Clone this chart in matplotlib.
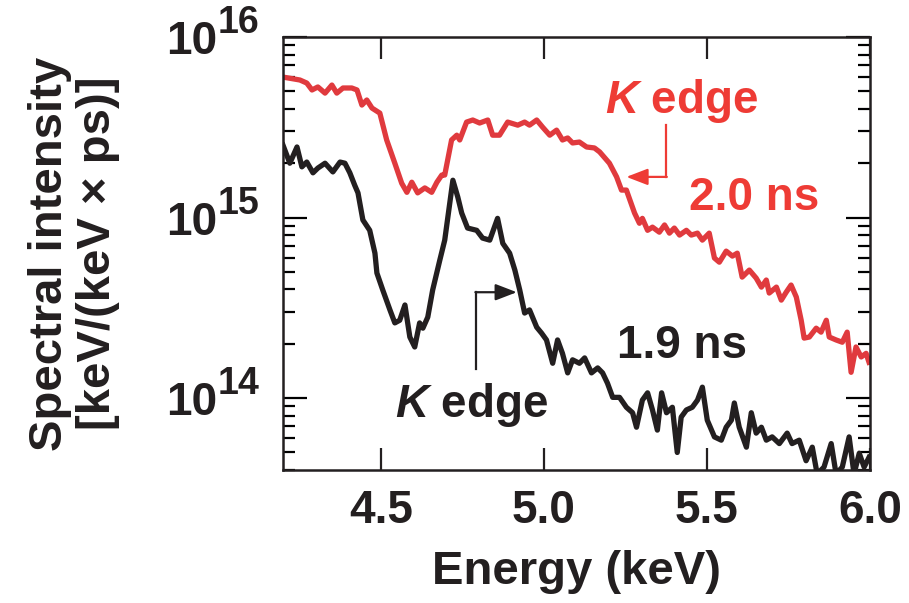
import matplotlib
matplotlib.use("Agg")
import matplotlib.pyplot as plt
import numpy as np

plt.rcParams["font.family"] = ["Liberation Sans", "DejaVu Sans"]
plt.rcParams["font.weight"] = "bold"
plt.rcParams["axes.labelweight"] = "bold"
plt.rcParams["mathtext.fontset"] = "custom"
plt.rcParams["mathtext.it"] = "Liberation Sans:bold:italic"
plt.rcParams["mathtext.rm"] = "Liberation Sans:bold"

RED_LINE = "#e03a3e"
RED_TEXT = "#ee3b35"
BLACK = "#231f20"

# spectrum at 2.0 ns (keV, keV/(keV x ps))
energy_20 = [4.200, 4.252, 4.273, 4.289, 4.307, 4.329, 4.350, 4.365, 4.384, 4.411,
             4.427, 4.442, 4.457, 4.473, 4.497, 4.518, 4.543, 4.564, 4.580, 4.595,
             4.613, 4.635, 4.656, 4.672, 4.687, 4.696, 4.717, 4.733, 4.742, 4.763,
             4.782, 4.803, 4.828, 4.843, 4.864, 4.889, 4.920, 4.941, 4.956, 4.978,
             4.996, 5.018, 5.039, 5.057, 5.073, 5.088, 5.109, 5.131, 5.155, 5.171,
             5.201, 5.223, 5.238, 5.253, 5.278, 5.293, 5.302, 5.318, 5.333, 5.354,
             5.370, 5.385, 5.400, 5.416, 5.437, 5.452, 5.471, 5.486, 5.507, 5.523,
             5.538, 5.559, 5.578, 5.593, 5.608, 5.630, 5.651, 5.667, 5.682, 5.691,
             5.713, 5.728, 5.743, 5.758, 5.774, 5.789, 5.798, 5.814, 5.835, 5.850,
             5.866, 5.875, 5.896, 5.915, 5.930, 5.942, 5.957, 5.973, 5.988, 5.997]
intensity_20 = [6.00e15, 5.78e15, 5.56e15, 5.09e15, 5.29e15, 4.89e15, 5.42e15, 4.89e15, 5.22e15, 5.22e15,
                5.09e15, 4.20e15, 4.48e15, 4.04e15, 3.79e15, 2.69e15, 2.00e15, 1.55e15, 1.38e15, 1.57e15,
                1.37e15, 1.46e15, 1.38e15, 1.57e15, 1.72e15, 1.72e15, 2.69e15, 2.86e15, 2.69e15, 3.38e15,
                3.47e15, 3.34e15, 3.47e15, 2.86e15, 2.86e15, 3.38e15, 3.25e15, 3.38e15, 3.25e15, 3.47e15,
                3.17e15, 2.86e15, 3.05e15, 2.69e15, 2.76e15, 2.59e15, 2.62e15, 2.46e15, 2.43e15, 2.31e15,
                2.00e15, 1.68e15, 1.42e15, 1.42e15, 1.06e15, 9.30e14, 9.90e14, 8.50e14, 8.85e14, 8.30e14,
                9.10e14, 8.20e14, 8.75e14, 8.00e14, 8.50e14, 8.00e14, 8.20e14, 7.50e14, 8.20e14, 5.97e14,
                5.66e14, 6.52e14, 6.12e14, 6.35e14, 4.68e14, 5.12e14, 4.62e14, 4.12e14, 4.51e14, 3.82e14,
                4.12e14, 3.49e14, 3.86e14, 4.23e14, 3.63e14, 2.70e14, 2.15e14, 2.18e14, 2.44e14, 2.32e14,
                2.70e14, 2.18e14, 2.10e14, 2.04e14, 2.32e14, 1.39e14, 1.92e14, 1.69e14, 1.77e14, 1.58e14]

# spectrum at 1.9 ns
energy_19 = [4.200, 4.221, 4.243, 4.258, 4.273, 4.292, 4.307, 4.329, 4.353, 4.375,
             4.390, 4.405, 4.420, 4.430, 4.445, 4.466, 4.482, 4.488, 4.506, 4.528,
             4.543, 4.558, 4.574, 4.589, 4.604, 4.619, 4.629, 4.644, 4.659, 4.681,
             4.696, 4.721, 4.736, 4.748, 4.766, 4.794, 4.812, 4.834, 4.858, 4.874,
             4.895, 4.911, 4.926, 4.941, 4.956, 4.978, 4.993, 5.008, 5.027, 5.042,
             5.057, 5.073, 5.088, 5.109, 5.125, 5.146, 5.165, 5.180, 5.195, 5.211,
             5.232, 5.253, 5.272, 5.284, 5.302, 5.318, 5.333, 5.348, 5.361, 5.376,
             5.394, 5.409, 5.421, 5.437, 5.455, 5.471, 5.486, 5.501, 5.523, 5.544,
             5.559, 5.575, 5.584, 5.599, 5.621, 5.636, 5.651, 5.667, 5.682, 5.700,
             5.722, 5.746, 5.761, 5.783, 5.804, 5.823, 5.838, 5.859, 5.881, 5.896,
             5.915, 5.936, 5.951, 5.967, 5.982, 5.997]
intensity_19 = [2.52e15, 2.00e15, 2.46e15, 1.91e15, 2.03e15, 1.77e15, 1.88e15, 2.00e15, 1.79e15, 2.03e15,
                2.00e15, 1.77e15, 1.51e15, 1.37e15, 9.70e14, 8.50e14, 6.35e14, 4.93e14, 3.97e14, 3.08e14,
                2.61e14, 2.70e14, 3.28e14, 2.18e14, 1.92e14, 2.61e14, 2.44e14, 2.81e14, 3.97e14, 5.82e14,
                7.50e14, 1.61e15, 1.30e15, 1.06e15, 8.75e14, 8.50e14, 7.70e14, 7.50e14, 9.90e14, 7.20e14,
                6.35e14, 5.12e14, 3.97e14, 2.96e14, 3.08e14, 2.47e14, 2.29e14, 2.10e14, 1.56e14, 2.10e14,
                1.77e14, 1.38e14, 1.63e14, 1.56e14, 1.67e14, 1.38e14, 1.47e14, 1.38e14, 1.21e14, 1.01e14,
                1.01e14, 8.90e13, 8.30e13, 6.90e13, 9.75e13, 1.07e14, 8.60e13, 6.65e13, 1.07e14, 8.30e13,
                8.90e13, 5.00e13, 7.85e13, 8.60e13, 8.90e13, 9.75e13, 1.15e14, 7.55e13, 6.10e13, 5.85e13,
                6.90e13, 7.55e13, 9.40e13, 6.90e13, 5.35e13, 8.30e13, 6.40e13, 6.90e13, 5.85e13, 6.10e13,
                5.60e13, 6.40e13, 5.60e13, 5.85e13, 4.50e13, 5.35e13, 3.80e13, 4.15e13, 5.60e13, 3.80e13,
                4.15e13, 6.10e13, 3.80e13, 4.95e13, 4.15e13, 4.70e13]

decades = [14, 15, 16]
x_ticks = [4.5, 5.0, 5.5, 6.0]
x_tick_labels = ["4.5", "5.0", "5.5", "6.0"]

fig = plt.figure(figsize=(9.09, 6.03), dpi=100)
ax = fig.add_axes([0.3113, 0.2206, 0.6458, 0.7180])

ax.plot(energy_20, intensity_20, color=RED_LINE, lw=3.8, solid_joinstyle="round")
ax.plot(energy_19, intensity_19, color=BLACK, lw=3.8, solid_joinstyle="round")

ax.set_yscale("log")
ax.set_xlim(4.2, 6.0)
ax.set_ylim(4e13, 1e16)

for sp in ax.spines.values():
    sp.set_linewidth(1.8)
    sp.set_color(BLACK)

ax.set_xticks(x_ticks)
ax.set_xticklabels(x_tick_labels)
ax.tick_params(axis="x", which="major", direction="in", length=16, width=1.6,
               top=True, labelsize=33, pad=14, colors=BLACK)
ax.tick_params(axis="x", which="minor", bottom=False, top=False)
ax.tick_params(axis="y", which="major", direction="in", length=17, width=1.6,
               left=True, right=True, labelleft=False)
ax.tick_params(axis="y", which="minor", direction="in", length=8.5, width=1.6,
               left=True, right=True, labelleft=False)
ax.yaxis.set_minor_formatter(plt.NullFormatter())

# decade labels with a large exponent, drawn as two pieces
for d in decades:
    ax.annotate("10", xy=(0, 10.0 ** d), xycoords=ax.get_yaxis_transform(),
                xytext=(-47.5, -12.2), textcoords="offset points",
                ha="right", va="baseline", fontsize=33, color=BLACK)
    ax.annotate(str(d), xy=(0, 10.0 ** d), xycoords=ax.get_yaxis_transform(),
                xytext=(-46.8, 2.9), textcoords="offset points",
                ha="left", va="baseline", fontsize=27, color=BLACK)

ax.set_xlabel("Energy (keV)", fontsize=34, color=BLACK, labelpad=12)
ax.set_ylabel("Spectral intensity\n[keV/(keV \u00d7 ps)]", fontsize=34,
              color=BLACK, linespacing=1.12)
ax.yaxis.set_label_coords(-0.278, 0.5)

arrow_style = "-|>,head_length=1.3,head_width=0.5"

# K-edge markers
ax.text(5.186, 3.8e15, r"$K$ edge", color=RED_TEXT, fontsize=33, va="baseline")
ax.text(5.446, 1.10e15, "2.0 ns", color=RED_TEXT, fontsize=33, va="baseline")
ax.plot([5.376, 5.376], [3.25e15, 1.68e15], color=RED_TEXT, lw=1.6)
ax.annotate("", xy=(5.253, 1.68e15), xytext=(5.377, 1.68e15),
            arrowprops=dict(arrowstyle=arrow_style, color=RED_TEXT, lw=1.6,
                            shrinkA=0, shrinkB=0))

ax.text(5.223, 1.67e14, "1.9 ns", color=BLACK, fontsize=33, va="baseline")
ax.text(4.543, 7.85e13, r"$K$ edge", color=BLACK, fontsize=33, va="baseline",
        clip_on=False)
ax.plot([4.791, 4.791], [1.45e14, 3.86e14], color=BLACK, lw=1.6)
ax.annotate("", xy=(4.917, 3.86e14), xytext=(4.790, 3.86e14),
            arrowprops=dict(arrowstyle=arrow_style, color=BLACK, lw=1.6,
                            shrinkA=0, shrinkB=0))

fig.savefig("out.png", dpi=100)
